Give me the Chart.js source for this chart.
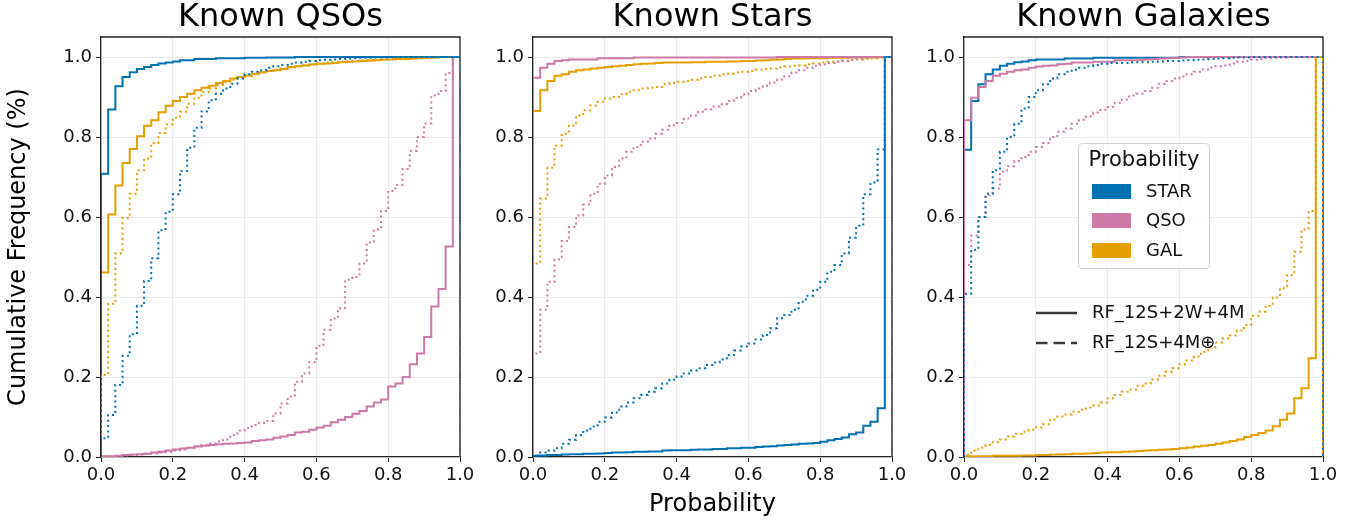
<!DOCTYPE html>
<html>
<head>
<meta charset="utf-8">
<script src="https://cdn.jsdelivr.net/npm/chart.js@4.4.1/dist/chart.umd.min.js"></script>
<style>
  body { margin: 0; background: #fff; font-family: 'DejaVu Sans', sans-serif; }
  #wrap { position: relative; width: 1368px; height: 521px; overflow: hidden; }
  canvas { position: absolute; top: 0; }
  .legend { position: absolute; left: 1078px; top: 143px; width: 130px; height: 124px;
    border: 1px solid #d0d0d0; border-radius: 4px; background: rgba(255,255,255,0.8); }
  .legend .ttl { position: absolute; left: 0; width: 130px; top: 3px; text-align: center; font-size: 21px; color: #111; }
  .legend .row { position: absolute; left: 13px; height: 16px; }
  .legend .patch { position: absolute; left: 0; top: 0; width: 39px; height: 15px; }
  .legend .lbl { position: absolute; left: 54px; top: -4px; font-size: 18px; color: #111; white-space: nowrap; }
  .lines { position: absolute; left: 1034px; top: 300px; }
  .lines .lbl { position: absolute; left: 58px; font-size: 18px; color: #111; white-space: nowrap; }
</style>
</head>
<body>
<div id="wrap">
  <canvas id="c1" width="480" height="521" style="left:0px"></canvas>
  <canvas id="c2" width="432" height="521" style="left:480px"></canvas>
  <canvas id="c3" width="456" height="521" style="left:912px"></canvas>

  <div class="legend">
    <div class="ttl">Probability</div>
    <div class="row" style="top:40px"><div class="patch" style="background:#0072B2"></div><div class="lbl">STAR</div></div>
    <div class="row" style="top:69px"><div class="patch" style="background:#CC79A7"></div><div class="lbl">QSO</div></div>
    <div class="row" style="top:99px"><div class="patch" style="background:#E69F00"></div><div class="lbl">GAL</div></div>
  </div>
  <div class="lines">
    <svg width="50" height="60" style="position:absolute;left:0;top:0">
      <line x1="2" y1="13" x2="43" y2="13" stroke="#3a3a3a" stroke-width="2.5"/>
      <line x1="2" y1="43" x2="43" y2="43" stroke="#3a3a3a" stroke-width="2.5" stroke-dasharray="11.5 6"/>
    </svg>
    <div class="lbl" style="top:1px">RF_12S+2W+4M</div>
    <div class="lbl" style="top:31px">RF_12S+4M&#8853;</div>
  </div>
</div>

<script>
// bin edges of the cumulative histograms (50 bins)
var edges = [0.00, 0.02, 0.04, 0.06, 0.08, 0.10, 0.12, 0.14, 0.16, 0.18,
             0.20, 0.22, 0.24, 0.26, 0.28, 0.30, 0.32, 0.34, 0.36, 0.38,
             0.40, 0.42, 0.44, 0.46, 0.48, 0.50, 0.52, 0.54, 0.56, 0.58,
             0.60, 0.62, 0.64, 0.66, 0.68, 0.70, 0.72, 0.74, 0.76, 0.78,
             0.80, 0.82, 0.84, 0.86, 0.88, 0.90, 0.92, 0.94, 0.96, 0.98];
var xTicks = [0.0, 0.2, 0.4, 0.6, 0.8, 1.0];
var yTicks = [0.0, 0.2, 0.4, 0.6, 0.8, 1.0];
var panelTitles = ['Known QSOs', 'Known Stars', 'Known Galaxies'];

// ---- Known QSOs, RF_12S+2W+4M (solid)
var qsoStar = [0.708, 0.869, 0.927, 0.950, 0.962, 0.970, 0.975, 0.980, 0.984, 0.986,
               0.989, 0.992, 0.992, 0.995, 0.995, 0.995, 0.997, 0.997, 0.997, 0.997,
               0.998, 0.998, 0.998, 0.999, 0.999, 0.999, 0.999, 1, 1, 1,
               1, 1, 1, 1, 1, 1, 1, 1, 1, 1, 1, 1, 1, 1, 1, 1, 1, 1, 1, 1];
var qsoQso = [0.002, 0.002, 0.003, 0.005, 0.006, 0.007, 0.008, 0.011, 0.013, 0.016,
              0.019, 0.021, 0.023, 0.026, 0.028, 0.030, 0.032, 0.033, 0.034, 0.035,
              0.036, 0.040, 0.042, 0.044, 0.048, 0.051, 0.055, 0.061, 0.063, 0.068,
              0.074, 0.078, 0.087, 0.093, 0.100, 0.108, 0.115, 0.126, 0.136, 0.144,
              0.176, 0.184, 0.200, 0.232, 0.259, 0.300, 0.376, 0.420, 0.526, 1.0];
var qsoGal = [0.461, 0.606, 0.679, 0.735, 0.770, 0.802, 0.828, 0.842, 0.862, 0.878,
              0.890, 0.900, 0.908, 0.917, 0.923, 0.928, 0.935, 0.940, 0.946, 0.950,
              0.954, 0.958, 0.962, 0.965, 0.967, 0.970, 0.975, 0.977, 0.979, 0.981,
              0.983, 0.984, 0.985, 0.987, 0.988, 0.989, 0.990, 0.991, 0.992, 0.993,
              0.994, 0.995, 0.995, 0.996, 0.997, 0.998, 0.999, 1, 1, 1];
// ---- Known QSOs, RF_12S+4M (dotted)
var qsoStarM = [0.047, 0.105, 0.180, 0.253, 0.307, 0.378, 0.440, 0.497, 0.567, 0.613,
                0.657, 0.715, 0.773, 0.823, 0.864, 0.892, 0.908, 0.921, 0.933, 0.946,
                0.957, 0.963, 0.967, 0.973, 0.977, 0.980, 0.983, 0.986, 0.988, 0.990,
                0.992, 0.993, 0.994, 0.995, 0.996, 0.997, 0.998, 0.998, 0.999, 0.999,
                1, 1, 1, 1, 1, 1, 1, 1, 1, 1];
var qsoQsoM = [0.001, 0.002, 0.003, 0.004, 0.005, 0.006, 0.008, 0.009, 0.011, 0.013,
               0.016, 0.019, 0.023, 0.027, 0.030, 0.034, 0.039, 0.044, 0.055, 0.066,
               0.072, 0.080, 0.085, 0.090, 0.109, 0.134, 0.151, 0.188, 0.209, 0.237,
               0.278, 0.318, 0.346, 0.372, 0.443, 0.450, 0.484, 0.536, 0.569, 0.615,
               0.665, 0.680, 0.720, 0.765, 0.800, 0.834, 0.904, 0.915, 0.960, 1.0];
var qsoGalM = [0.205, 0.383, 0.509, 0.598, 0.658, 0.717, 0.746, 0.785, 0.810, 0.832,
               0.848, 0.863, 0.883, 0.898, 0.912, 0.922, 0.930, 0.937, 0.943, 0.948,
               0.953, 0.957, 0.961, 0.965, 0.968, 0.971, 0.974, 0.977, 0.980, 0.982,
               0.984, 0.986, 0.987, 0.988, 0.989, 0.990, 0.991, 0.992, 0.993, 0.994,
               0.995, 0.996, 0.997, 0.997, 0.998, 0.999, 0.999, 1, 1, 1];

// ---- Known Stars, RF_12S+2W+4M (solid)
var starStar = [0.003, 0.004, 0.005, 0.005, 0.006, 0.007, 0.007, 0.008, 0.008, 0.009,
                0.010, 0.011, 0.011, 0.012, 0.013, 0.013, 0.014, 0.014, 0.016, 0.017,
                0.017, 0.017, 0.018, 0.019, 0.019, 0.020, 0.020, 0.022, 0.022, 0.023,
                0.023, 0.025, 0.026, 0.027, 0.029, 0.030, 0.031, 0.033, 0.034, 0.035,
                0.038, 0.042, 0.045, 0.049, 0.057, 0.061, 0.078, 0.088, 0.122, 1.0];
var starQso = [0.948, 0.973, 0.983, 0.990, 0.992, 0.994, 0.994, 0.994, 0.994, 0.997,
               0.997, 0.997, 0.997, 0.997, 0.999, 0.999, 0.999, 0.999, 0.999, 0.999,
               0.999, 0.999, 0.999, 0.999, 0.999, 0.999, 0.999, 0.999, 0.999, 0.999,
               0.999, 0.999, 0.999, 0.999, 1, 1, 1, 1, 1, 1,
               1, 1, 1, 1, 1, 1, 1, 1, 1, 1];
var starGal = [0.865, 0.917, 0.940, 0.953, 0.957, 0.963, 0.967, 0.969, 0.971, 0.973,
               0.975, 0.977, 0.978, 0.980, 0.982, 0.983, 0.984, 0.985, 0.986, 0.986,
               0.986, 0.986, 0.987, 0.987, 0.988, 0.988, 0.988, 0.989, 0.989, 0.990,
               0.990, 0.991, 0.992, 0.993, 0.994, 0.995, 0.996, 0.996, 0.997, 0.997,
               0.997, 0.998, 0.998, 0.998, 0.999, 0.999, 0.999, 0.999, 1, 1];
// ---- Known Stars, RF_12S+4M (dotted)
var starStarM = [0.004, 0.011, 0.016, 0.022, 0.033, 0.043, 0.055, 0.066, 0.076, 0.088,
                 0.099, 0.111, 0.126, 0.136, 0.147, 0.155, 0.163, 0.172, 0.184, 0.193,
                 0.201, 0.209, 0.216, 0.222, 0.230, 0.236, 0.244, 0.255, 0.266, 0.276,
                 0.284, 0.294, 0.305, 0.322, 0.347, 0.355, 0.368, 0.388, 0.403, 0.418,
                 0.438, 0.463, 0.480, 0.509, 0.548, 0.578, 0.657, 0.686, 0.769, 1.0];
var starQsoM = [0.259, 0.368, 0.438, 0.494, 0.540, 0.575, 0.604, 0.631, 0.658, 0.683,
                0.704, 0.725, 0.746, 0.763, 0.775, 0.788, 0.796, 0.808, 0.818, 0.829,
                0.835, 0.846, 0.854, 0.863, 0.869, 0.876, 0.882, 0.890, 0.898, 0.906,
                0.915, 0.921, 0.928, 0.936, 0.944, 0.952, 0.961, 0.967, 0.973, 0.978,
                0.982, 0.985, 0.988, 0.991, 0.994, 0.996, 0.998, 0.999, 1, 1];
var starGalM = [0.484, 0.646, 0.723, 0.779, 0.808, 0.829, 0.854, 0.867, 0.879, 0.888,
                0.896, 0.900, 0.907, 0.913, 0.917, 0.921, 0.923, 0.925, 0.932, 0.935,
                0.938, 0.940, 0.943, 0.947, 0.950, 0.953, 0.957, 0.959, 0.961, 0.963,
                0.965, 0.968, 0.970, 0.971, 0.974, 0.976, 0.978, 0.979, 0.982, 0.984,
                0.986, 0.988, 0.989, 0.990, 0.992, 0.994, 0.995, 0.997, 0.998, 1];

// ---- Known Galaxies, RF_12S+2W+4M (solid)
var galStar = [0.768, 0.890, 0.932, 0.957, 0.969, 0.978, 0.983, 0.987, 0.989, 0.992,
               0.994, 0.994, 0.994, 0.994, 0.996, 0.996, 0.996, 0.996, 0.998, 0.998,
               0.998, 0.998, 0.998, 0.998, 0.998, 0.998, 0.998, 0.998, 0.998, 0.998,
               1, 1, 1, 1, 1, 1, 1, 1, 1, 1, 1, 1, 1, 1, 1, 1, 1, 1, 1, 1];
var galQso = [0.842, 0.898, 0.925, 0.940, 0.953, 0.958, 0.963, 0.967, 0.969, 0.973,
              0.976, 0.978, 0.979, 0.982, 0.983, 0.986, 0.986, 0.986, 0.988, 0.988,
              0.988, 0.992, 0.992, 0.992, 0.992, 0.994, 0.995, 0.996, 0.997, 0.998,
              0.999, 1, 1, 1, 1, 1, 1, 1, 1, 1, 1, 1, 1, 1, 1, 1, 1, 1, 1, 1];
var galGal = [0.002, 0.002, 0.002, 0.002, 0.003, 0.003, 0.003, 0.003, 0.004, 0.004,
              0.005, 0.005, 0.006, 0.006, 0.007, 0.008, 0.008, 0.009, 0.010, 0.011,
              0.012, 0.012, 0.013, 0.014, 0.015, 0.016, 0.017, 0.018, 0.019, 0.020,
              0.022, 0.024, 0.026, 0.028, 0.030, 0.033, 0.036, 0.040, 0.044, 0.050,
              0.055, 0.060, 0.066, 0.077, 0.093, 0.109, 0.147, 0.172, 0.247, 1.0];
// ---- Known Galaxies, RF_12S+4M (dotted)
var galStarM = [0.408, 0.518, 0.600, 0.658, 0.717, 0.763, 0.800, 0.833, 0.871, 0.900,
                0.917, 0.932, 0.946, 0.957, 0.963, 0.968, 0.973, 0.977, 0.980, 0.983,
                0.985, 0.985, 0.985, 0.987, 0.987, 0.987, 0.988, 0.989, 0.990, 0.990,
                0.991, 0.992, 0.993, 0.994, 0.995, 0.996, 0.997, 0.998, 0.999, 0.999,
                1, 1, 1, 1, 1, 1, 1, 1, 1, 1];
var galQsoM = [0.480, 0.554, 0.600, 0.654, 0.671, 0.713, 0.727, 0.740, 0.750, 0.763,
               0.775, 0.785, 0.800, 0.813, 0.821, 0.833, 0.843, 0.852, 0.861, 0.868,
               0.875, 0.885, 0.894, 0.904, 0.908, 0.915, 0.923, 0.933, 0.940, 0.946,
               0.951, 0.957, 0.963, 0.969, 0.974, 0.977, 0.979, 0.984, 0.988, 0.990,
               0.993, 0.995, 0.997, 0.998, 0.999, 1, 1, 1, 1, 1];
var galGalM = [0.006, 0.016, 0.023, 0.030, 0.037, 0.044, 0.051, 0.058, 0.063, 0.068,
               0.074, 0.082, 0.094, 0.101, 0.106, 0.113, 0.118, 0.124, 0.129, 0.136,
               0.147, 0.155, 0.163, 0.169, 0.178, 0.184, 0.194, 0.203, 0.213, 0.222,
               0.232, 0.241, 0.251, 0.263, 0.274, 0.286, 0.296, 0.304, 0.316, 0.330,
               0.353, 0.363, 0.378, 0.399, 0.422, 0.455, 0.513, 0.569, 0.615, 1.0];

var BLUE = '#0072B2', PINK = '#CC79A7', ORANGE = '#E69F00';
var FONT = 'DejaVu Sans';

// turn bin values into a matplotlib-like "step" outline
function steps(vals) {
  var pts = [{x: 0, y: 0}];
  for (var i = 0; i < vals.length; i++) {
    pts.push({x: edges[i], y: vals[i]});
  }
  pts.push({x: 1, y: vals[vals.length - 1]});
  pts.push({x: 1, y: 0});
  return pts;
}

function line(vals, color, dotted) {
  return {
    data: steps(vals),
    borderColor: color,
    borderWidth: 2,
    borderDash: dotted ? [2, 3.3] : [],
    pointRadius: 0,
    stepped: 'before',
    fill: false
  };
}

// top and right spines
var framePlugin = {
  id: 'frame',
  beforeDatasetsDraw: function(chart) {
    var a = chart.chartArea, ctx = chart.ctx;
    ctx.save();
    ctx.strokeStyle = '#222';
    ctx.lineWidth = 1.3;
    ctx.beginPath();
    ctx.moveTo(a.left, a.top);
    ctx.lineTo(a.right, a.top);
    ctx.lineTo(a.right, a.bottom);
    ctx.stroke();
    ctx.restore();
  }
};

function makePanel(id, title, yWidth, rightPad, datasets, xTitle, yTitle) {
  return new Chart(document.getElementById(id).getContext('2d'), {
    type: 'line',
    data: {datasets: datasets},
    plugins: [framePlugin],
    options: {
      responsive: false,
      animation: false,
      layout: {padding: {left: 0, right: rightPad, top: 0, bottom: 0}},
      plugins: {
        legend: {display: false},
        tooltip: {enabled: false},
        title: {
          display: true, text: title, fullSize: false, color: '#000',
          font: {family: FONT, size: 32, weight: 'normal', lineHeight: 1.0},
          padding: {top: 2, bottom: 3}
        }
      },
      scales: {
        x: {
          type: 'linear', min: 0, max: 1,
          afterBuildTicks: function(s) { s.ticks = xTicks.map(function(v) { return {value: v}; }); },
          afterFit: function(s) { s.height = 64; },
          ticks: {
            color: '#111', padding: 3, maxRotation: 0,
            font: {family: FONT, size: 18},
            callback: function(v) { return v.toFixed(1); }
          },
          grid: {color: '#ebebeb', tickColor: '#222', tickLength: 5},
          border: {color: '#222', width: 1.3},
          title: {
            display: !!xTitle, text: xTitle || '', color: '#000',
            font: {family: FONT, size: 24}, padding: {top: 0, bottom: 2}
          }
        },
        y: {
          type: 'linear', min: 0, max: 1.05,
          afterBuildTicks: function(s) { s.ticks = yTicks.map(function(v) { return {value: v}; }); },
          afterFit: function(s) { s.width = yWidth; },
          ticks: {
            color: '#111', padding: 4,
            font: {family: FONT, size: 18},
            callback: function(v) { return v.toFixed(1); }
          },
          grid: {color: '#ebebeb', tickColor: '#222', tickLength: 5},
          border: {color: '#222', width: 1.3},
          title: {
            display: !!yTitle, text: yTitle || '', color: '#000',
            font: {family: FONT, size: 24}, padding: {top: 4, bottom: 0}
          }
        }
      }
    }
  });
}

makePanel('c1', panelTitles[0], 101, 20, [
  line(qsoStarM, BLUE, true), line(qsoQsoM, PINK, true), line(qsoGalM, ORANGE, true),
  line(qsoStar, BLUE, false), line(qsoQso, PINK, false), line(qsoGal, ORANGE, false)
], null, 'Cumulative Frequency (%)');

makePanel('c2', panelTitles[1], 53, 20, [
  line(starStarM, BLUE, true), line(starQsoM, PINK, true), line(starGalM, ORANGE, true),
  line(starStar, BLUE, false), line(starQso, PINK, false), line(starGal, ORANGE, false)
], 'Probability', null);

makePanel('c3', panelTitles[2], 52, 45, [
  line(galStarM, BLUE, true), line(galQsoM, PINK, true), line(galGalM, ORANGE, true),
  line(galGal, ORANGE, false), line(galQso, PINK, false), line(galStar, BLUE, false)
], null, null);
</script>
</body>
</html>
